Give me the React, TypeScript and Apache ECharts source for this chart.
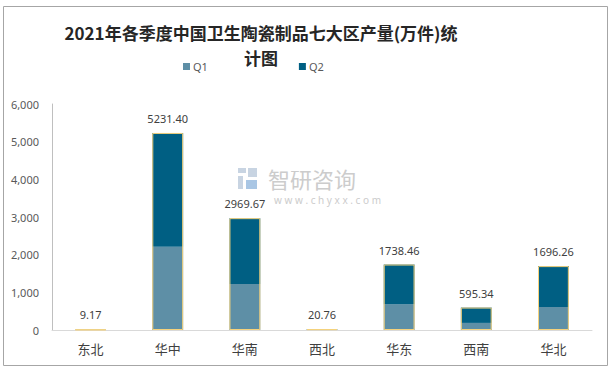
import React, { useEffect, useRef } from "react";
import * as echarts from "echarts";

const categories = ["东北", "华中", "华南", "西北", "华东", "西南", "华北"];
const totals = [9.17, 5231.4, 2969.67, 20.76, 1738.46, 595.34, 1696.26];
const q1Values = [4.5, 2210, 1220, 10.2, 685, 188, 610];
const q2Values = [4.67, 3021.4, 1749.67, 10.56, 1053.46, 407.34, 1086.26];
const yTicks = [0, 1000, 2000, 3000, 4000, 5000, 6000];

const FONT = "'Noto Sans', 'Noto Sans CJK SC', sans-serif";

export default function App() {
  const ref = useRef<HTMLDivElement>(null);
  useEffect(() => {
    if (!ref.current) return;
    const chart = echarts.init(ref.current, undefined, { renderer: "svg" });
    chart.setOption({
      animation: false,
      backgroundColor: "#ffffff",
      grid: { left: 52, right: 20, top: 104, bottom: 42, containLabel: false },
      legend: {
        data: ["Q1", "Q2"],
        left: 178,
        top: 56,
        itemWidth: 7,
        itemHeight: 7,
        itemGap: 91,
        icon: "rect",
        textStyle: { fontSize: 11, color: "#595959", fontFamily: FONT, padding: [0, 0, 0, -2] },
      },
      xAxis: {
        type: "category",
        data: categories,
        axisLine: { lineStyle: { color: "#d9d9d9", width: 1 } },
        axisTick: { show: false },
        axisLabel: { fontSize: 13, color: "#404040", margin: 12, fontFamily: FONT },
      },
      yAxis: {
        type: "value",
        min: yTicks[0],
        max: yTicks[yTicks.length - 1],
        interval: 1000,
        splitLine: { show: false },
        axisLine: { show: true, lineStyle: { color: "#bfbfbf" } },
        axisTick: { show: false },
        axisLabel: {
          fontSize: 11,
          color: "#595959",
          margin: 13,
          fontFamily: FONT,
          formatter: (v: number) => v.toLocaleString("en-US"),
        },
      },
      series: [
        {
          name: "Q1",
          type: "bar",
          stack: "s",
          data: q1Values,
          barWidth: "40%",
          itemStyle: { color: "#5e8fa6" },
        },
        {
          name: "Q2",
          type: "bar",
          stack: "s",
          data: q2Values,
          barWidth: "40%",
          itemStyle: { color: "#005f83" },
        },
        {
          name: "total",
          type: "bar",
          data: totals,
          barWidth: "40%",
          barGap: "-100%",
          z: 5,
          itemStyle: { color: "rgba(0,0,0,0)", borderColor: "#f5d27c", borderWidth: 1 },
          label: {
            show: true,
            position: "top",
            distance: 9,
            fontSize: 11,
            color: "#404040",
            fontFamily: FONT,
            formatter: (p: any) => totals[p.dataIndex].toFixed(2),
          },
        },
      ],
      graphic: [
        {
          type: "rect",
          shape: { x: 3.5, y: 6.5, width: 604, height: 359 },
          style: { fill: "none", stroke: "#a6a6a6", lineWidth: 1 },
          silent: true,
        },
        {
          type: "text",
          x: 261,
          y: 20,
          style: {
            text: "2021年各季度中国卫生陶瓷制品七大区产量(万件)统\n计图",
            fontSize: 17,
            fontWeight: "bold",
            fill: "#262626",
            align: "center",
            lineHeight: 25,
            fontFamily: "'Noto Sans CJK SC', sans-serif",
          },
        },
        {
          type: "group",
          z: 0,
          children: [
            { type: "rect", shape: { x: 238, y: 168, width: 8, height: 5 }, style: { fill: "#c8d4e2" } },
            { type: "rect", shape: { x: 248, y: 168, width: 9, height: 9 }, style: { fill: "#c8d4e2" } },
            { type: "rect", shape: { x: 238, y: 176, width: 5, height: 13 }, style: { fill: "#c8d4e2" } },
            { type: "rect", shape: { x: 246, y: 180, width: 11, height: 9 }, style: { fill: "#a9c6e4" } },
            {
              type: "text",
              x: 268,
              y: 167,
              style: { text: "智研咨询", fontSize: 22, fill: "#cccccc", fontFamily: "'Noto Sans CJK SC', sans-serif" },
            },
            {
              type: "text",
              x: 274,
              y: 195,
              style: { text: "w w w . c h y x x . c o m", fontSize: 10, fill: "#cccccc", fontFamily: FONT },
            },
          ],
        },
      ],
    });
    return () => chart.dispose();
  }, []);
  return <div ref={ref} style={{ width: 612, height: 372, position: "absolute", left: 0, top: 0 }} />;
}
